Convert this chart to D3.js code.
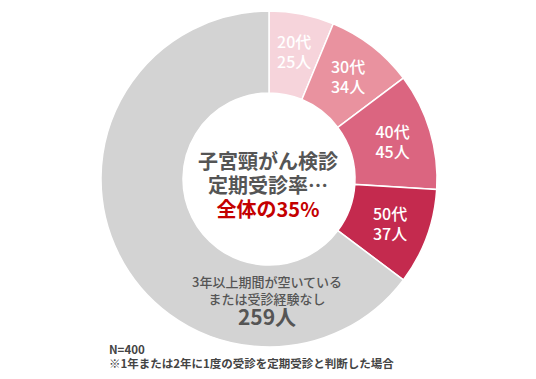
<!DOCTYPE html>
<html><head><meta charset="utf-8">
<script src="https://cdn.jsdelivr.net/npm/d3@7"></script>
<style>body{margin:0;background:#fff}svg{display:block}text{font-family:"Noto Sans CJK JP","Noto Sans",sans-serif}</style>
</head><body>
<svg id="c" width="536" height="379"></svg>
<script>
const categories = ["20代","30代","40代","50代","other"];
const values = [25,34,45,37,259];
const colors = ["#f6d4db","#e9929f","#db6580","#c42a4e","#d3d3d3"];
const centerLines = ["子宮頸がん検診","定期受診率…","全体の35%"];
const otherLines = ["3年以上期間が空いている","または受診経験なし"];
const notes = ["N=400","※1年または2年に1度の受診を定期受診と判断した場合"];

const svg = d3.select("#c");
const cx = 269, cy = 179, R = 168, r0 = 86;
const g = svg.append("g").attr("transform",`translate(${cx},${cy})`);
const pie = d3.pie().sort(null).value(d=>d)(values);
const arc = d3.arc().innerRadius(r0).outerRadius(R);
g.selectAll("path").data(pie).join("path")
  .attr("d",arc).attr("fill",(d,i)=>colors[i])
  .attr("stroke","#fff").attr("stroke-width",1.5);

const labelArc = d3.arc().innerRadius(r0+2).outerRadius(R+2);
pie.slice(0,4).forEach((d,i)=>{
  const [x,y] = labelArc.centroid(d);
  const t = g.append("text").attr("text-anchor","middle").attr("fill","#fff")
    .attr("font-size",16).attr("font-weight",500);
  t.append("tspan").attr("x",x).attr("y",y-4).text(categories[i]);
  t.append("tspan").attr("x",x).attr("y",y+16).text(values[i]+"人");
});

// other label
const ot = g.append("text").attr("text-anchor","middle").attr("fill","#555").attr("font-size",13).attr("font-weight",500);
otherLines.forEach((l,i)=>ot.append("tspan").attr("x",-2).attr("y",108+i*17).text(l));
g.append("text").attr("text-anchor","middle").attr("fill","#555").attr("font-size",21).attr("font-weight",700)
  .attr("x",-2).attr("y",146).text(values[4]+"人");

// center
centerLines.forEach((l,i)=>{
  g.append("text").attr("text-anchor","middle").attr("x",-1).attr("y",-10+i*24)
   .attr("font-size",20).attr("font-weight",700)
   .attr("fill",i===2?"#c40000":"#555").text(l);
});

// notes
notes.forEach((l,i)=>{
  svg.append("text").attr("x",109).attr("y",354+i*14).attr("font-size",11.5)
   .attr("font-weight",700).attr("fill","#444").text(l);
});
</script>
</body></html>
